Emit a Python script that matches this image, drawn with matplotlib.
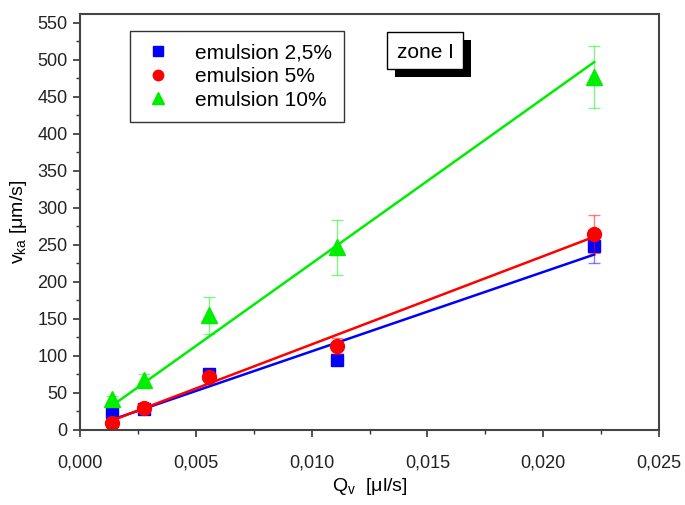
import numpy as np
import matplotlib.pyplot as plt
from matplotlib.ticker import MultipleLocator, FuncFormatter
from matplotlib.patches import Rectangle

plt.rcParams['font.family'] = ['Liberation Sans', 'DejaVu Sans']

qv = [0.00139, 0.00278, 0.00556, 0.0111, 0.0222]

v_25 = [24, 29, 75, 95, 248]
err_25 = [3, 3, 4, 7, 22]
fit_25 = [14, 237]

v_5 = [10, 30, 71, 113, 265]
err_5 = [2, 3, 4, 11, 26]
fit_5 = [13, 261]

v_10 = [42, 67, 155, 247, 477]
err_10 = [4, 8, 25, 37, 42]
fit_10 = [33, 497]

labels = ['emulsion 2,5%', 'emulsion 5%', 'emulsion 10%']

W, H = 685, 505
fig = plt.figure(figsize=(6.85, 5.05), dpi=100)
ax = fig.add_axes([80/W, 1 - 430/H, 579/W, 416/H])

series = [(v_25, err_25, fit_25, 'blue', 's', 9),
          (v_5, err_5, fit_5, 'red', 'o', 10),
          (v_10, err_10, fit_10, '#00ee00', '^', 11)]
handles = []
for (v, e, f, c, m, ms), lab in zip(series, labels):
    ax.errorbar(qv, v, yerr=e, fmt='none', ecolor=c, alpha=0.5, capsize=4, elinewidth=1)
    ax.plot([qv[0], qv[-1]], f, color=c, lw=1.8)
    h, = ax.plot(qv, v, ls='none', marker=m, color=c, ms=ms)
    handles.append(h)

ax.set_xlim(0, 0.025)
ax.set_ylim(0, 562)
ax.xaxis.set_major_locator(MultipleLocator(0.005))
ax.xaxis.set_minor_locator(MultipleLocator(0.0025))
ax.yaxis.set_major_locator(MultipleLocator(50))
ax.yaxis.set_minor_locator(MultipleLocator(25))
ax.xaxis.set_major_formatter(FuncFormatter(lambda x, p: f'{x:.3f}'.replace('.', ',')))
ax.tick_params(which='both', direction='out', top=False, right=False, labelsize=13, color='#333333',
               labelcolor='#222222')
ax.tick_params(which='major', length=5, width=1.2)
ax.tick_params(which='minor', length=3, width=1)
ax.tick_params(axis='x', pad=13)
ax.tick_params(axis='y', pad=4)
for s in ax.spines.values():
    s.set_linewidth(1.5)
    s.set_color('#444444')

ax.set_xlabel(r'Q$_\mathregular{v}$  [$\mathregular{\mu}$l/s]', fontsize=14, labelpad=3)
ax.set_ylabel(r'v$_\mathregular{ka}$ [$\mathregular{\mu}$m/s]', fontsize=14, labelpad=6)

leg = ax.legend(handles, labels, loc='upper left', bbox_to_anchor=(50/579, 1 - 17/416),
                fontsize=15, frameon=True, fancybox=False, edgecolor='black', markerscale=0.75,
                handlelength=1.5, handletextpad=1.0, borderpad=0.6, labelspacing=0.22,
                borderaxespad=0)
leg.get_frame().set_linewidth(1)

# zone I box with shadow, in figure pixels
fig.patches.append(Rectangle((395/W, 1 - 77/H), 76/W, 37/H, transform=fig.transFigure,
                             fc='black', ec='none', zorder=3))
fig.patches.append(Rectangle((387/W, 1 - 69/H), 76/W, 37/H, transform=fig.transFigure,
                             fc='white', ec='black', lw=1, zorder=4))
fig.text(425/W, 1 - 53/H, 'zone I', fontsize=15, ha='center', va='center', zorder=5)

fig.savefig('out.png')
